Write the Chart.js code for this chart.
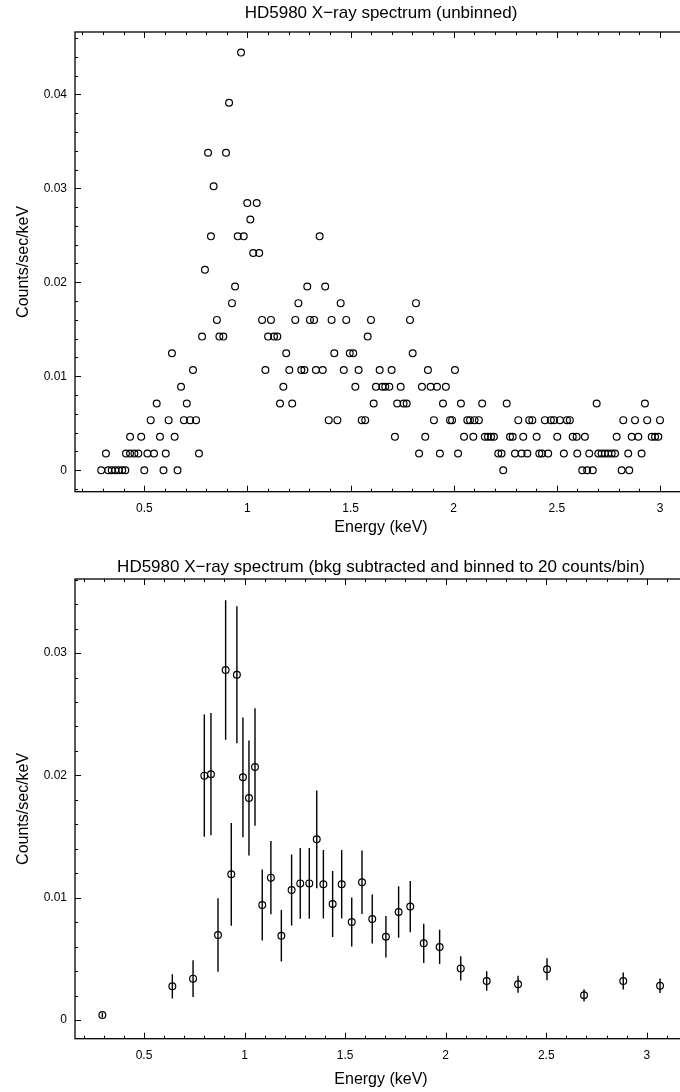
<!DOCTYPE html>
<html><head><meta charset="utf-8">
<script src="https://cdn.jsdelivr.net/npm/chart.js@4.4.0/dist/chart.umd.min.js"></script>
<style>
html,body{margin:0;padding:0;overflow:hidden;background:#fff;width:680px;height:1092px;}
canvas{position:absolute;left:0;}
#c1{top:0}
#c2{top:546px}
</style></head><body>
<canvas id="c1" width="762" height="546"></canvas>
<canvas id="c2" width="762" height="546"></canvas>
<script>
// ---------- Top panel: unbinned spectrum ----------
const rawEnergy = [
  // 0
  0.291,0.325,0.342,0.359,0.376,0.393,0.408,0.500,0.593,0.661,2.240,2.623,2.647,2.674,2.814,2.851,
  // 0.00178
  0.314,0.411,0.431,0.452,0.471,0.515,0.547,0.604,0.765,1.832,1.933,2.021,2.216,2.232,2.297,2.329,2.357,2.415,2.428,2.458,2.534,2.599,2.657,2.701,2.717,2.733,2.749,2.766,2.782,2.846,2.911,
  // 0.00356
  0.431,0.485,0.576,0.647,1.715,1.862,2.050,2.095,2.151,2.166,2.181,2.195,2.273,2.286,2.337,2.402,2.502,2.577,2.596,2.636,2.790,2.863,2.895,2.960,2.976,2.992,
  // 0.00533
  0.531,0.618,0.692,0.722,0.751,1.394,1.436,1.554,1.571,1.904,1.982,1.992,2.066,2.079,2.101,2.122,2.313,2.366,2.381,2.442,2.471,2.486,2.515,2.549,2.563,2.822,2.879,2.938,3.000,
  // 0.00711
  0.560,0.706,1.158,1.217,1.612,1.726,1.757,1.772,1.948,2.035,2.138,2.257,2.693,2.927,
  // 0.00889
  0.678,1.174,1.523,1.623,1.654,1.668,1.688,1.743,1.846,1.888,1.919,1.962,
  // 0.01067
  0.736,1.087,1.203,1.261,1.276,1.332,1.365,1.467,1.539,1.641,1.699,1.875,2.006,
  // 0.01244
  0.634,1.188,1.421,1.496,1.513,1.801,
  // 0.01422
  0.780,0.864,0.883,1.100,1.129,1.145,1.583,
  // 0.01600
  0.852,1.071,1.114,1.232,1.303,1.323,1.408,1.479,1.599,1.788,
  // 0.01778
  0.925,1.247,1.452,1.817,
  // 0.01956
  0.940,1.290,1.377,
  // 0.02133
  0.794,
  // 0.02311
  1.028,1.057,
  // 0.02489
  0.823,0.953,0.982,1.350,
  // 0.02667
  1.014,
  // 0.02844
  0.999,1.045,
  // 0.03022
  0.836,
  // 0.03378
  0.809,0.896,
  // 0.03911
  0.911,
  // 0.04444
  0.969
];
const rawRate = [
  0,0,0,0,0,0,0,0,0,0,0,0,0,0,0,0,
  0.00178,0.00178,0.00178,0.00178,0.00178,0.00178,0.00178,0.00178,0.00178,0.00178,0.00178,0.00178,0.00178,0.00178,0.00178,0.00178,0.00178,0.00178,0.00178,0.00178,0.00178,0.00178,0.00178,0.00178,0.00178,0.00178,0.00178,0.00178,0.00178,0.00178,0.00178,
  0.00356,0.00356,0.00356,0.00356,0.00356,0.00356,0.00356,0.00356,0.00356,0.00356,0.00356,0.00356,0.00356,0.00356,0.00356,0.00356,0.00356,0.00356,0.00356,0.00356,0.00356,0.00356,0.00356,0.00356,0.00356,0.00356,
  0.00533,0.00533,0.00533,0.00533,0.00533,0.00533,0.00533,0.00533,0.00533,0.00533,0.00533,0.00533,0.00533,0.00533,0.00533,0.00533,0.00533,0.00533,0.00533,0.00533,0.00533,0.00533,0.00533,0.00533,0.00533,0.00533,0.00533,0.00533,0.00533,
  0.00711,0.00711,0.00711,0.00711,0.00711,0.00711,0.00711,0.00711,0.00711,0.00711,0.00711,0.00711,0.00711,0.00711,
  0.00889,0.00889,0.00889,0.00889,0.00889,0.00889,0.00889,0.00889,0.00889,0.00889,0.00889,0.00889,
  0.01067,0.01067,0.01067,0.01067,0.01067,0.01067,0.01067,0.01067,0.01067,0.01067,0.01067,0.01067,0.01067,
  0.01244,0.01244,0.01244,0.01244,0.01244,0.01244,
  0.01422,0.01422,0.01422,0.01422,0.01422,0.01422,0.01422,
  0.01600,0.01600,0.01600,0.01600,0.01600,0.01600,0.01600,0.01600,0.01600,0.01600,
  0.01778,0.01778,0.01778,0.01778,
  0.01956,0.01956,0.01956,
  0.02133,
  0.02311,0.02311,
  0.02489,0.02489,0.02489,0.02489,
  0.02667,
  0.02844,0.02844,
  0.03022,
  0.03378,0.03378,
  0.03911,
  0.04444
];

// ---------- Bottom panel: binned spectrum ----------
const binEnergy = [0.293,0.641,0.744,0.800,0.833,0.868,0.906,0.934,0.962,0.992,1.022,1.052,1.088,1.131,1.183,1.234,1.277,1.322,1.359,1.392,1.438,1.483,1.533,1.584,1.635,1.703,1.766,1.824,1.891,1.970,2.075,2.204,2.360,2.504,2.688,2.883,3.066];
const binRate   = [0.0004,0.00275,0.00338,0.01998,0.0201,0.00695,0.02862,0.01191,0.02823,0.01984,0.01815,0.02069,0.0094,0.01164,0.00689,0.01063,0.01117,0.01117,0.01477,0.0111,0.00948,0.0111,0.00801,0.01126,0.00826,0.00681,0.00883,0.00927,0.00627,0.00597,0.00422,0.00319,0.00292,0.00414,0.00202,0.00319,0.0028];
const binErr    = [0.0002,0.0010,0.0015,0.0050,0.0050,0.0030,0.0057,0.0042,0.0056,0.0049,0.0047,0.0048,0.0029,0.0030,0.0021,0.0029,0.0029,0.0029,0.0040,0.0028,0.0027,0.0028,0.0020,0.0026,0.0020,0.0017,0.0021,0.0021,0.0016,0.0014,0.0010,0.0008,0.0007,0.0009,0.0005,0.0007,0.0006];

// ---------- Axis ticks / labels ----------
const xMajorTicks = [0.5,1,1.5,2,2.5,3];
const xTickLabels = ['0.5','1','1.5','2','2.5','3'];
const topYTicks = [0,0.01,0.02,0.03,0.04];
const topYLabels = ['0','0.01','0.02','0.03','0.04'];
const botYTicks = [0,0.01,0.02,0.03];
const botYLabels = ['0','0.01','0.02','0.03'];
const titleTop = 'HD5980 X\u2212ray spectrum (unbinned)';
const titleBot = 'HD5980 X\u2212ray spectrum (bkg subtracted and binned to 20 counts/bin)';
const xTitle = 'Energy (keV)';
const yTitle = 'Counts/sec/keV';

Chart.defaults.font.family = '"Liberation Sans", Arial, Helvetica, sans-serif';
Chart.defaults.color = '#000';

const framePlugin = {
  id: 'frame',
  afterDraw(chart, args, o) {
    const {ctx, chartArea: a, scales: {x, y}} = chart;
    ctx.save();
    ctx.strokeStyle = '#000';
    ctx.lineWidth = 1.3;
    ctx.strokeRect(a.left, a.top, a.right - a.left, a.bottom - a.top);
    ctx.lineWidth = 1;
    ctx.beginPath();
    const xs = Math.ceil(x.min / o.xMinor - 1e-6);
    for (let i = xs; i * o.xMinor <= x.max + 1e-9; i++) {
      const v = i * o.xMinor;
      const major = Math.abs(v / o.xMajor - Math.round(v / o.xMajor)) < 1e-6;
      const L = major ? 6 : 3;
      const px = Math.round(x.getPixelForValue(v)) + 0.5;
      ctx.moveTo(px, a.bottom); ctx.lineTo(px, a.bottom - L);
      ctx.moveTo(px, a.top); ctx.lineTo(px, a.top + L);
    }
    const ys = Math.ceil(y.min / o.yMinor - 1e-6);
    for (let i = ys; i * o.yMinor <= y.max + 1e-9; i++) {
      const v = i * o.yMinor;
      const major = Math.abs(v / o.yMajor - Math.round(v / o.yMajor)) < 1e-6;
      const L = major ? 6 : 3;
      const py = Math.round(y.getPixelForValue(v)) + 0.5;
      ctx.moveTo(a.left, py); ctx.lineTo(a.left + L, py);
      ctx.moveTo(a.right, py); ctx.lineTo(a.right - L, py);
    }
    ctx.stroke();
    ctx.restore();
  }
};

const errPlugin = {
  id: 'errbars',
  beforeDatasetsDraw(chart, args, o) {
    if (!o.err) return;
    const {ctx, scales: {x, y}} = chart;
    ctx.save();
    ctx.strokeStyle = '#000';
    ctx.lineWidth = 1.4;
    ctx.beginPath();
    o.err.forEach((e, i) => {
      const px = x.getPixelForValue(o.xs[i]);
      ctx.moveTo(px, y.getPixelForValue(o.ys[i] - e));
      ctx.lineTo(px, y.getPixelForValue(o.ys[i] + e));
    });
    ctx.stroke();
    ctx.restore();
  }
};

function makeChart(id, cfg) {
  const pts = cfg.xs.map((v, i) => ({x: v, y: cfg.ys[i]}));
  return new Chart(document.getElementById(id), {
    type: 'scatter',
    data: {datasets: [{
      data: pts,
      xAxisID: 'x', yAxisID: 'y',
      pointStyle: 'circle',
      pointRadius: 3.4,
      pointBorderWidth: 1.2,
      pointBorderColor: '#000',
      pointBackgroundColor: 'rgba(0,0,0,0)',
      showLine: false
    }]},
    options: {
      responsive: false,
      animation: false,
      events: [],
      layout: {padding: 0},
      plugins: {
        legend: {display: false},
        tooltip: {enabled: false},
        title: {
          display: true, text: cfg.title, color: '#000',
          font: {size: 17, weight: 'normal'},
          padding: cfg.titlePad
        },
        frame: {xMinor: 0.1, xMajor: 0.5, yMinor: 0.002, yMajor: 0.01},
        errbars: {err: cfg.err || null, xs: cfg.xs, ys: cfg.ys}
      },
      scales: {
        x: {
          type: 'linear', position: 'bottom', min: cfg.xMin, max: cfg.xMax,
          grid: {display: false, drawTicks: false},
          border: {display: false},
          afterBuildTicks: s => { s.ticks = xMajorTicks.map(v => ({value: v})); },
          afterFit: s => { s.height = cfg.xHeight; },
          ticks: {
            autoSkip: false, maxRotation: 0, minRotation: 0, padding: 9.5,
            font: {size: 12}, color: '#000',
            callback: (v) => { const i = xMajorTicks.indexOf(v); return i >= 0 ? xTickLabels[i] : ''; }
          },
          title: {display: true, text: xTitle, font: {size: 16}, color: '#000', padding: {top: 0, bottom: cfg.xTitlePad}}
        },
        y: {
          type: 'linear', position: 'left', min: cfg.yMin, max: cfg.yMax,
          grid: {display: false, drawTicks: false},
          border: {display: false},
          afterBuildTicks: s => { s.ticks = cfg.yTicks.map(v => ({value: v})); },
          afterFit: s => { s.width = 75; },
          ticks: {
            autoSkip: false, padding: 8, font: {size: 12}, color: '#000',
            callback: (v) => { const i = cfg.yTicks.indexOf(v); return i >= 0 ? cfg.yLabels[i] : ''; }
          },
          title: {display: true, text: yTitle, font: {size: 16}, color: '#000', padding: {top: 14.4, bottom: 0}}
        },
        yRight: {
          type: 'linear', position: 'right', min: 0, max: 1,
          grid: {display: false, drawTicks: false},
          border: {display: false},
          ticks: {display: false},
          afterFit: s => { s.width = 75; }
        }
      }
    },
    plugins: [framePlugin, errPlugin]
  });
}

makeChart('c1', {
  xs: rawEnergy, ys: rawRate, title: titleTop,
  titlePad: {top: 2.8, bottom: 8.8},
  xMin: 0.164, xMax: 3.131, yMin: -0.00228, yMax: 0.04663,
  xHeight: 54.3, xTitlePad: 8.4,
  yTicks: topYTicks, yLabels: topYLabels
});
makeChart('c2', {
  xs: binEnergy, ys: binRate, err: binErr, title: titleBot,
  titlePad: {top: 10.8, bottom: 1.8},
  xMin: 0.157, xMax: 3.200, yMin: -0.00153, yMax: 0.03606,
  xHeight: 53.3, xTitlePad: 2.4,
  yTicks: botYTicks, yLabels: botYLabels
});
</script>
</body></html>
